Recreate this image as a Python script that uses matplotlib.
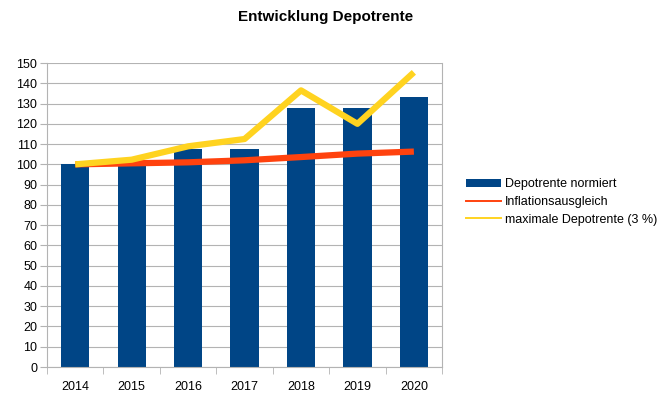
import matplotlib.pyplot as plt
from matplotlib.lines import Line2D
import numpy as np

plt.rcParams['font.family'] = ['Liberation Sans', 'DejaVu Sans']

years = ["2014", "2015", "2016", "2017", "2018", "2019", "2020"]
depot_normiert = [100, 101, 107.7, 107.7, 127.8, 127.8, 133.2]
inflation = [100, 100.5, 101, 102, 103.6, 105.3, 106.3]
max_depot = [100, 102.3, 108.9, 112.5, 136.5, 120, 145.4]

fig = plt.figure(figsize=(6.64, 4.05), dpi=100)
ax = fig.add_axes([0.0708, 0.0938, 0.595, 0.7506])

x = np.arange(len(years))
bars = ax.bar(x, depot_normiert, width=0.5, color="#004586", label="Depotrente normiert", zorder=2)
ax.plot(x, inflation, color="#ff420e", lw=4.5, zorder=3, solid_capstyle="butt")
ax.plot(x, max_depot, color="#ffd320", lw=4.5, zorder=4, solid_capstyle="butt")

ax.set_xlim(-0.5, len(years) - 0.5)
ax.set_ylim(0, 150)
ax.set_yticks(range(0, 151, 10))
ax.set_xticks(x)
ax.set_xticklabels(years)
ax.set_xticks(np.arange(-0.5, len(years), 1), minor=True)
ax.tick_params(axis="x", which="major", length=0, pad=10, labelsize=9)
ax.tick_params(axis="x", which="minor", length=5, color="#b3b3b3")
ax.tick_params(axis="y", length=5, color="#b3b3b3", labelsize=9, pad=2)
ax.grid(axis="y", color="#b3b3b3", lw=0.8, zorder=0)
ax.set_axisbelow(True)
for side in ["left", "right", "bottom"]:
    ax.spines[side].set_color("#b3b3b3")
ax.spines["top"].set_visible(False)

fig.suptitle("Entwicklung Depotrente", x=0.49, y=0.975, fontsize=11, fontweight="bold")

# thin lines in the legend, like the original
h_infl = Line2D([], [], color="#ff420e", lw=1.4)
h_max = Line2D([], [], color="#ffd320", lw=1.4)
fig.legend([bars, h_infl, h_max],
           ["Depotrente normiert", "Inflationsausgleich", "maximale Depotrente (3 %)"],
           loc="upper left", bbox_to_anchor=(0.695, 0.572),
           frameon=False, fontsize=9, handlelength=2.8, handletextpad=0.3,
           labelspacing=0.45, borderaxespad=0)

fig.savefig("out.png", dpi=100)
